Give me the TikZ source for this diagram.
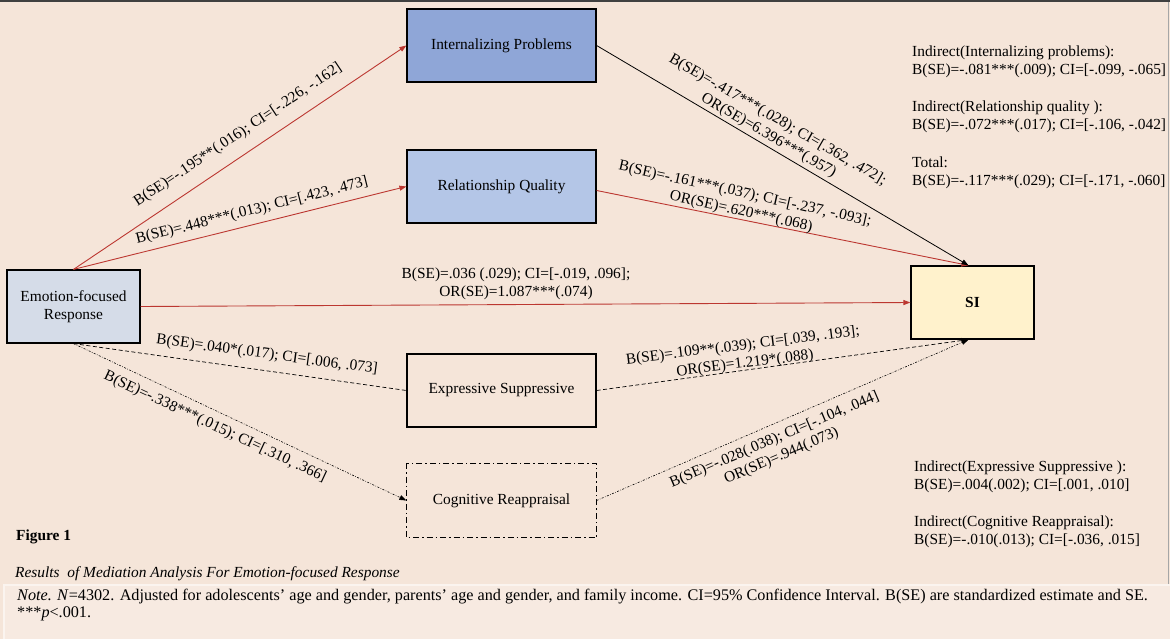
\documentclass[tikz,border=0pt]{standalone}
\usepackage{fontspec}
\setmainfont{Liberation Serif}
\usetikzlibrary{arrows.meta,calc}
\definecolor{bg}{HTML}{F5E5D9}
\definecolor{notebg}{HTML}{F7EAE1}
\definecolor{noteline}{HTML}{FBF4EF}
\definecolor{efrfill}{HTML}{D5DCE8}
\definecolor{ipfill}{HTML}{8FA6D7}
\definecolor{rqfill}{HTML}{B4C6E7}
\definecolor{sifill}{HTML}{FFF2CC}
\definecolor{arrowred}{HTML}{BC3731}
\tikzset{
  box/.style={draw=black, line width=1.2pt, inner sep=0pt, align=center,
    minimum width=189pt, minimum height=73pt},
  redarrow/.style={draw=arrowred, line width=0.9pt, -{Triangle[length=7pt,width=5pt]}},
  blackarrow/.style={draw=black, line width=0.8pt, -{Triangle[length=7pt,width=5pt]}},
  dashline/.style={draw=black, line width=0.7pt, dash pattern=on 4pt off 2.5pt},
  dotline/.style={draw=black, line width=0.6pt, dash pattern=on 2pt off 1.5pt on 0.6pt off 1.5pt},
  tip/.style={-{Triangle[length=7pt,width=5pt]}},
  lab/.style={inner sep=0pt, align=center},
  txt/.style={inner sep=0pt, align=left, anchor=west},
}
\begin{document}
\begin{tikzpicture}[x=1pt,y=-1pt,font=\fontsize{15.4}{18}\selectfont]
\useasboundingbox (0,0) rectangle (1170,639);
\fill[bg] (0,0) rectangle (1170,639);
\draw[line width=2.5pt, draw=black!75] (0,1) -- (1170,1);
\draw[line width=0.8pt, draw=black!35] (1168,2) -- (1168,585);
\draw[fill=notebg, draw=noteline, line width=1.5pt] (4,585) rectangle (1172,642);

% nodes
\node[box, fill=efrfill, minimum width=133pt] (EFR) at (73.5,306.5) {Emotion-focused\\Response};
\node[box, fill=ipfill] (IP) at (501.5,45.5) {Internalizing Problems};
\node[box, fill=rqfill] (RQ) at (501.5,186.5) {Relationship Quality};
\node[box, fill=sifill, minimum width=123pt] (SI) at (972.5,302.5) {\textbf{SI}};
\node[box] (ES) at (501.5,390.5) {Expressive Suppressive};
\node[box, draw=none] (CR) at (501.5,500.5) {Cognitive Reappraisal};
\draw[line width=1.2pt, dash pattern=on 6pt off 3pt on 1.5pt off 3pt]
  (CR.north west) rectangle (CR.south east);

\coordinate (SIn) at ($(SI.north)+(-4,0)$);
\coordinate (SIs) at ($(SI.south)+(-4,0)$);
\coordinate (RQe) at ($(RQ.east)+(0,4)$);

% connectors
\draw[redarrow] (EFR.north) -- (IP.west);
\draw[redarrow] (EFR.north) -- (RQ.west);
\draw[redarrow] (EFR.east) -- (SI.west);
\draw[redarrow] (RQe) -- (SIn);
\draw[blackarrow] (IP.east) -- (SIn);
\draw[dashline] (EFR.south) -- (ES.west);
\draw[dotline, tip] (EFR.south) -- (CR.west);
\draw[dashline, tip] (ES.east) -- (SIs);
\draw[dotline, tip] (CR.east) -- (SIs);

% edge labels
\node[lab, rotate=33.7] (lIP) at (238,135) {B(SE)=-.195**(.016); CI=[-.226, -.162]};
\node[lab, rotate=14] (lRQ) at (252,211) {B(SE)=.448***(.013); CI=[.423, .473]};
\node[lab] (lDir) at (516,284) {B(SE)=.036 (.029); CI=[-.019, .096];\\OR(SE)=1.087***(.074)};
\node[lab, rotate=-30] (lIPSI) at (773,128) {B(SE)=-.417***(.028); CI=[.362, .472];\\OR(SE)=6.396***(.957)};
\node[lab, rotate=-12.5] (lRQSI) at (743,203) {B(SE)=-.161***(.037); CI=[-.237, -.093];\\OR(SE)=.620***(.068)};
\node[lab, rotate=-7.7] (lES) at (267,355) {B(SE)=.040*(.017); CI=[.006, .073]};
\node[lab, rotate=-25] (lCR) at (215,427) {B(SE)=-.338***(.015); CI=[.310, .366]};
\node[lab, rotate=7] (lESSI) at (744,355) {B(SE)=.109**(.039); CI=[.039, .193];\\OR(SE)=1.219*(.088)};
\node[lab, rotate=23] (lCRSI) at (778,448) {B(SE)=-.028(.038); CI=[-.104, .044]\\OR(SE)=.944(.073)};

% right-hand texts
\node[txt] (t1) at (912,62) {Indirect(Internalizing problems):\\B(SE)=-.081***(.009); CI=[-.099, -.065]};
\node[txt] (t2) at (912,117) {Indirect(Relationship quality ):\\B(SE)=-.072***(.017); CI=[-.106, -.042]};
\node[txt] (t3) at (912,173) {Total:\\B(SE)=-.117***(.029); CI=[-.171, -.060]};
\node[txt] (t4) at (914,476.5) {Indirect(Expressive Suppressive ):\\B(SE)=.004(.002); CI=[.001, .010]};
\node[txt] (t5) at (914,532) {Indirect(Cognitive Reappraisal):\\B(SE)=-.010(.013); CI=[-.036, .015]};

% caption
\node[txt] (fig) at (16,537) {\textbf{Figure 1}};
\node[txt] (res) at (15,574) {\textit{Results\ \ of Mediation Analysis For Emotion-focused Response}};
\node[txt, font=\fontsize{16.2}{17}\selectfont] (note) at (17,605) {\textit{Note.} \textit{N}=4302. Adjusted for adolescents’ age and gender, parents’ age and gender, and family income. CI=95\% Confidence Interval. B(SE) are standardized estimate and SE.\\***\textit{p}<.001.};
\end{tikzpicture}
\end{document}
